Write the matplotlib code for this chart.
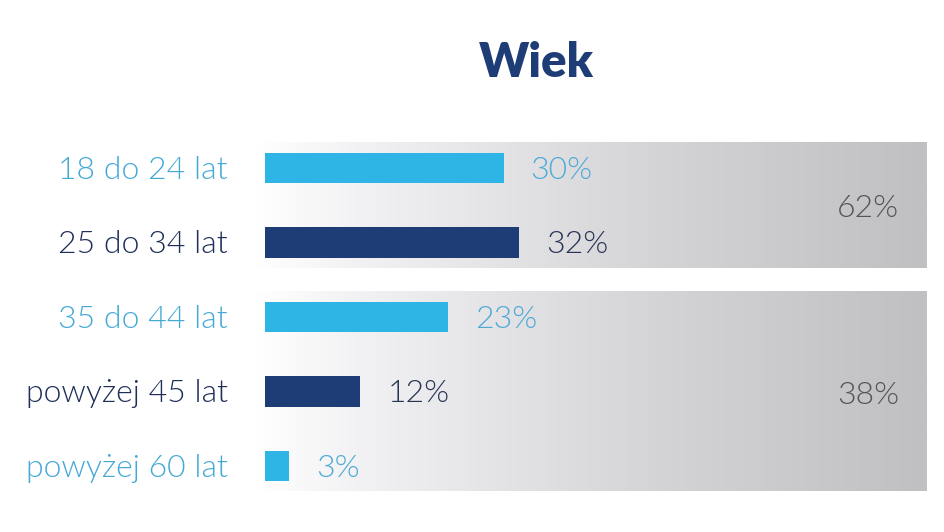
#!/usr/bin/env python3
# -*- coding: utf-8 -*-
"""
Wiek - poziomy wykres słupkowy z grupami w tle.
"""

import numpy as np
import matplotlib
matplotlib.use("Agg")
import matplotlib.pyplot as plt
from matplotlib.colors import LinearSegmentedColormap

plt.rcParams['font.family'] = ['Lato', 'DejaVu Sans']

# data
categories = ["18 do 24 lat", "25 do 34 lat", "35 do 44 lat", "powyżej 45 lat", "powyżej 60 lat"]
values     = [30, 32, 23, 12, 3]
group_rows   = [[0, 1], [2, 3, 4]]
group_values = [62, 38]
title = "Wiek"

# colours
light_blue = "#2EB5E5"
navy       = "#1E3C76"
bar_colors   = [light_blue, navy, light_blue, navy, light_blue]
label_colors = ["#45A9D6", "#1E2F58", "#45A9D6", "#1E2F58", "#45A9D6"]
value_colors = ["#4FAAD6", "#2A3556", "#4FAAD6", "#2A3556", "#4FAAD6"]
group_color  = "#555558"

# layout: pixel mapping
W, H = 944, 532
x0_px, px_per = 265, 7.95       # bar origin and px per percent
y0_px, row_px = 168, 74.5       # first row centre and row spacing

def px2x(p):
    return (p - x0_px) / px_per

def px2y(p):
    return (p - y0_px) / row_px

fig = plt.figure(figsize=(W/100, H/100), dpi=100)
ax = fig.add_axes([0, 0, 1, 1])
ax.axis('off')

# gradient backgrounds
cmap = LinearSegmentedColormap.from_list(
    "bg", [(0.0, "#ffffff"), (0.15, "#f2f2f4"), (0.6, "#d4d4d7"), (1.0, "#c0c0c3")])
grad = np.linspace(0, 1, 512).reshape(1, -1)
bg_left, bg_right = px2x(255), px2x(926)
pad_top, pad_bot = 0.34, 0.34
for rows in group_rows:
    top = min(rows) - pad_top
    bot = max(rows) + pad_bot
    ax.imshow(grad, cmap=cmap, aspect='auto', interpolation='bicubic',
              extent=[bg_left, bg_right, bot, top], zorder=0)
ax.set_xlim(px2x(0), px2x(W))
ax.set_ylim(px2y(H), px2y(0))
ax.set_aspect('auto')

# bars
y = np.arange(len(categories))
ax.barh(y, values, height=0.41, color=bar_colors, zorder=2)

fs = 23
dy = 0.03
for i, (cat, v) in enumerate(zip(categories, values)):
    ax.text(px2x(228), i + dy, cat, ha='right', va='center', fontsize=fs,
            color=label_colors[i], fontweight=300)
    ax.text(v + 3.4, i + dy, f"{v}%", ha='left', va='center', fontsize=fs,
            color=value_colors[i], fontweight=300)

# group totals
for rows, gv in zip(group_rows, group_values):
    yc = (min(rows) + max(rows)) / 2
    ax.text(px2x(899), yc + 0.05, f"{gv}%", ha='right', va='center', fontsize=fs,
            color=group_color, fontweight=300)

# title
fig.text(536/W, 1 - 63/H, title, ha='center', va='center', fontsize=34,
         fontweight='heavy', color=navy)

fig.savefig("out.png", dpi=100)
plt.close()
